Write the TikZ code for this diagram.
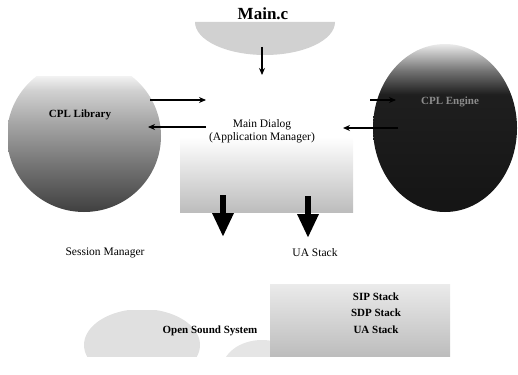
\documentclass[tikz,border=0pt]{standalone}
\usepackage{fontspec}
\setmainfont{Liberation Serif}
\usetikzlibrary{arrows.meta}
\pgfdeclareverticalshading{leftsh}{100bp}{color(0bp)=(black!75); color(25bp)=(black!75); color(42bp)=(black!55); color(58bp)=(black!35); color(70bp)=(black!18); color(75bp)=(black!6); color(100bp)=(black!6)}
\pgfdeclareverticalshading{rightsh}{100bp}{color(0bp)=(black!92); color(25bp)=(black!92); color(60bp)=(black!88); color(67bp)=(black!55); color(75bp)=(black!8); color(100bp)=(black!8)}
\tikzset{
  lbl/.style={font=\fontsize{11.5}{13}\selectfont, inner sep=1pt, align=center},
  blbl/.style={font=\bfseries\fontsize{11}{13}\selectfont, inner sep=1pt, align=center},
  thin arrow/.style={line width=1.1pt, -{Stealth[length=7pt,width=6pt]}},
  fat arrow/.style={line width=6pt, -{Triangle[length=24pt,width=20pt]}},
}
\begin{document}
\begin{tikzpicture}[x=1pt,y=-1pt]
\useasboundingbox (0,0) rectangle (518,374);
% Main.c shape
\fill[black!18] (195,22) arc[start angle=180,end angle=0,x radius=70,y radius=33] -- cycle;
% left CPL library bowl
\begin{scope}
\clip (8,77) rectangle (162,214);
\clip (84,136) ellipse[x radius=77, y radius=76];
\shade[shading=leftsh] (8,77) rectangle (162,212);
\end{scope}
% right CPL engine
\begin{scope}
\clip (445,128) ellipse[x radius=72, y radius=84];
\shade[shading=rightsh] (373,44) rectangle (518,212);
\end{scope}
% main dialog area
\shade[top color=white, bottom color=black!26] (180,137) rectangle (353,212);
% bottom left blob
\begin{scope}
\clip (80,310) rectangle (270,356);
\fill[black!12] (142,345) ellipse[x radius=58, y radius=36];
\fill[black!10] (262,370) ellipse[x radius=40, y radius=30];
\end{scope}
% bottom right box
\shade[top color=black!8, bottom color=black!26] (270,284) rectangle (450,356);

% texts
\node[font=\bfseries\fontsize{17}{19}\selectfont, inner sep=1pt] (mainc) at (263,14) {Main.c};
\node[blbl] (cpllib) at (80,115) {CPL Library};
\node[blbl, text=black!45] (cpleng) at (450,102) {CPL Engine};
\node[lbl] (maindlg) at (262,131) {Main Dialog\\(Application Manager)};
\node[lbl] (sessmgr) at (105,253) {Session Manager};
\node[lbl] (uastack) at (315,253) {UA Stack};
\node[blbl] (oss) at (210,331) {Open Sound System};
\node[blbl, font=\bfseries\fontsize{11}{16.5}\selectfont] (stacks) at (376,313) {SIP Stack\\SDP Stack\\UA Stack};

% connectors
\coordinate (mc1) at (262,47);
\coordinate (mc2) at (262,75);
\draw[thin arrow] (mc1) -- (mc2);
\coordinate (l1) at (150,100);
\coordinate (l2) at (206,100);
\coordinate (l3) at (206,127);
\coordinate (l4) at (148,127);
\draw[thin arrow] (l1) -- (l2);
\draw[thin arrow] (l3) -- (l4);
\coordinate (r1) at (370,100);
\coordinate (r2) at (396,100);
\coordinate (r3) at (398,128);
\coordinate (r4) at (343,128);
\draw[thin arrow] (r1) -- (r2);
\draw[thin arrow] (r3) -- (r4);
\coordinate (f1) at (223,195);
\coordinate (f2) at (223,237);
\coordinate (f3) at (308,196);
\coordinate (f4) at (308,238);
\draw[fat arrow] (f1) -- (f2);
\draw[fat arrow] (f3) -- (f4);
\end{tikzpicture}
\end{document}
